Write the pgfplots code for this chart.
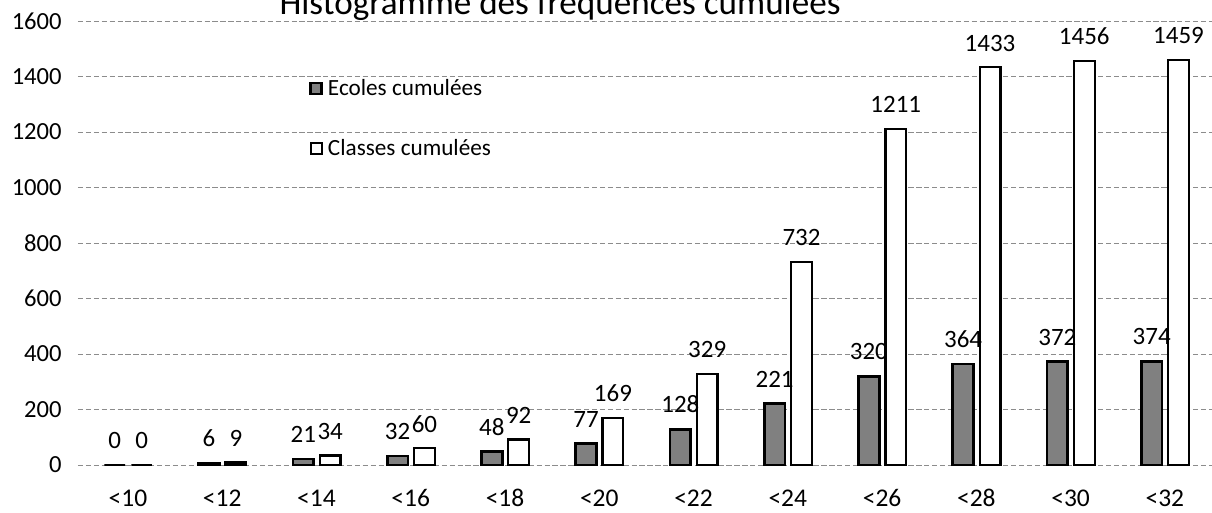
\documentclass[border=0pt]{standalone}
\usepackage{fontspec}
\setmainfont{Carlito}
\usepackage{pgfplots}
\pgfplotsset{compat=1.18}
\begin{document}
\begin{tikzpicture}
\begin{axis}[
  at={(1.56cm,0.96cm)}, anchor=south west,
  scale only axis, width=22.68cm, height=8.88cm,
  xmin=-0.53, xmax=11.5, ymin=0, ymax=1600,
  ytick={0,200,...,1600},
  xtick={0,...,11},
  xticklabels={<10,<12,<14,<16,<18,<20,<22,<24,<26,<28,<30,<32},
  axis line style={draw=none},
  tick style={draw=none},
  ymajorgrids,
  major grid style={black!45, line width=0.4pt, dash pattern=on 3pt off 1.5pt},
  /pgf/number format/1000 sep={},
  /pgf/number format/assume math mode=true,
  yticklabel style={anchor=east, inner sep=0pt, xshift=-0.32cm, font=\fontsize{14}{16}\selectfont},
  xticklabel style={anchor=base, inner sep=0pt, yshift=-0.68cm, font=\fontsize{14.5}{16}\selectfont},
  ybar, bar width=0.22,
  clip=false,
  nodes near coords,
  every node near coord/.append style={anchor=south, inner sep=0pt, yshift=0.3cm, font=\fontsize{14.2}{16}\selectfont, black},
  legend image code/.code={\draw[#1] (0cm,-0.11cm) rectangle (0.22cm,0.11cm);},
  legend style={draw=none, fill=none, inner sep=0pt,
    at={(axis description cs:0.2037,0.881)}, anchor=north west,
    font=\fontsize{13.2}{15}\selectfont, row sep=0.62cm,
    nodes={inner sep=0.1cm}},
  legend cell align=left,
]
\addplot[bar shift=-0.14, fill=black!50, draw=black, line width=1.5pt]
  coordinates {(0,0) (1,6) (2,21) (3,32) (4,48) (5,77) (6,128) (7,221) (8,320) (9,364) (10,372) (11,374)};
\addplot[bar shift=0.145, fill=white, draw=black, line width=1.3pt]
  coordinates {(0,0) (1,9) (2,34) (3,60) (4,92) (5,169) (6,329) (7,732) (8,1211) (9,1433) (10,1456) (11,1459)};
\legend{Ecoles cumulées, Classes cumulées}
\end{axis}
\node[font=\fontsize{20}{24}\selectfont, anchor=base] at (11.2cm,9.96cm) {Histogramme des fréquences cumulées};
\pgfresetboundingbox
\useasboundingbox (0,0) rectangle (24.24cm,10.26cm);
\end{tikzpicture}
\end{document}
